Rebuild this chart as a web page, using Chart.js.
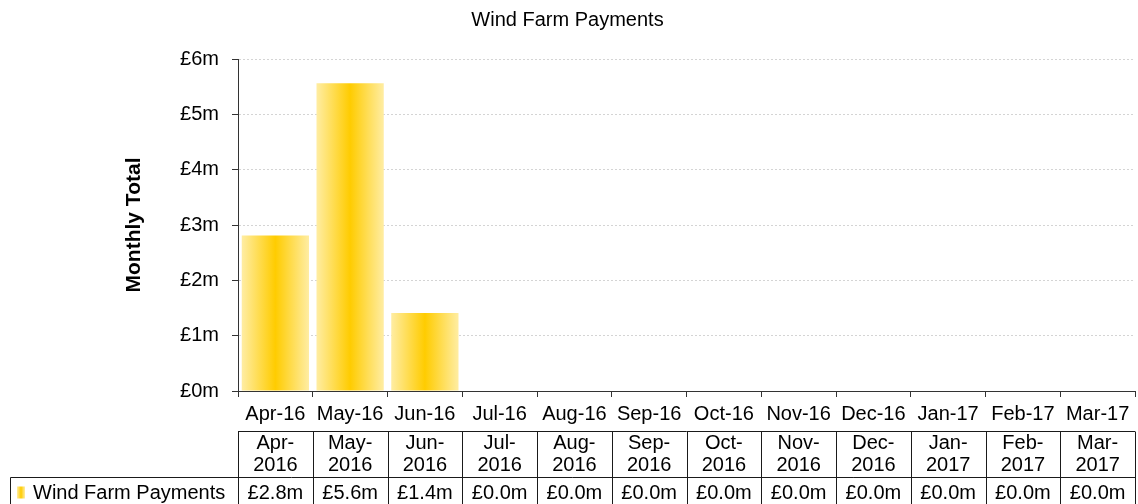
<!DOCTYPE html>
<html>
<head>
<meta charset="utf-8">
<script src="https://cdn.jsdelivr.net/npm/chart.js@4.4.1/dist/chart.umd.min.js"></script>
<style>
  html, body { margin: 0; padding: 0; background: #fff; }
  #wrap { position: relative; width: 1138px; height: 504px; }
</style>
</head>
<body>
<div id="wrap"><canvas id="c"></canvas></div>
<script>
// ---- data ----
const chartTitle = 'Wind Farm Payments';
const seriesName = 'Wind Farm Payments';
const yAxisTitle = 'Monthly Total';
const categories = ['Apr-16','May-16','Jun-16','Jul-16','Aug-16','Sep-16','Oct-16','Nov-16','Dec-16','Jan-17','Feb-17','Mar-17'];
const tableHeaders = ['Apr-2016','May-2016','Jun-2016','Jul-2016','Aug-2016','Sep-2016','Oct-2016','Nov-2016','Dec-2016','Jan-2017','Feb-2017','Mar-2017'];
const payments = [2.81, 5.56, 1.41, 0, 0, 0, 0, 0, 0, 0, 0, 0]; // £ millions
const yTicks = [0, 1, 2, 3, 4, 5, 6];

const FONT = "'Liberation Sans', Arial, sans-serif";
const BAR_PCT = 0.9;

function barGradient(ctx, x0, x1) {
  const g = ctx.createLinearGradient(x0, 0, x1, 0);
  g.addColorStop(0, '#FFEDA3');
  g.addColorStop(0.5, '#FFCC00');
  g.addColorStop(1, '#FFEDA3');
  return g;
}

const tablePlugin = {
  id: 'dataTable',
  afterDraw(chart) {
    const ctx = chart.ctx;
    const xs = chart.scales.x;
    const n = categories.length;
    const cw = (xs.right - xs.left) / n;
    const base = chart.chartArea.bottom;
    const top = Math.round(base + 40) + 0.5;
    const mid = Math.round(base + 86) + 0.5;
    const bottom = chart.height;
    const legendLeft = 10.5;
    ctx.save();
    ctx.strokeStyle = '#1a1a1a';
    ctx.lineWidth = 1;
    ctx.beginPath();
    ctx.moveTo(xs.left, top); ctx.lineTo(xs.right, top);
    ctx.moveTo(legendLeft, mid); ctx.lineTo(xs.right, mid);
    ctx.moveTo(legendLeft, mid); ctx.lineTo(legendLeft, bottom);
    for (let i = 0; i <= n; i++) {
      const x = Math.round(xs.left + i * cw) + 0.5;
      ctx.moveTo(x, top); ctx.lineTo(x, bottom);
    }
    ctx.stroke();

    ctx.fillStyle = '#000';
    ctx.font = '20px ' + FONT;
    ctx.textAlign = 'center';
    ctx.textBaseline = 'middle';
    for (let i = 0; i < n; i++) {
      const cx = xs.left + (i + 0.5) * cw;
      const h = tableHeaders[i];
      const k = h.indexOf('-') + 1;
      ctx.fillText(h.slice(0, k), cx, top + 12);
      ctx.fillText(h.slice(k), cx, top + 34);
      ctx.fillText('£' + payments[i].toFixed(1) + 'm', cx, mid + 16);
    }
    // legend key
    ctx.fillStyle = barGradient(ctx, 17, 25);
    ctx.fillRect(17, mid + 9, 8, 12);
    ctx.fillStyle = '#000';
    ctx.textAlign = 'left';
    ctx.fillText(seriesName, 33, mid + 16);
    ctx.restore();
  }
};

new Chart(document.getElementById('c'), {
  type: 'bar',
  data: {
    labels: categories,
    datasets: [{
      label: seriesName,
      data: payments,
      barPercentage: BAR_PCT,
      categoryPercentage: 1,
      borderWidth: 0,
      backgroundColor: (c) => {
        const chart = c.chart;
        const xs = chart.scales && chart.scales.x;
        if (!xs || c.dataIndex === undefined || !chart.chartArea) return '#FFCC00';
        const cx = xs.getPixelForValue(c.dataIndex);
        const w = (xs.right - xs.left) / categories.length * BAR_PCT;
        return barGradient(chart.ctx, cx - w / 2, cx + w / 2);
      }
    }]
  },
  options: {
    responsive: true,
    maintainAspectRatio: false,
    animation: false,
    events: [],
    layout: { padding: { left: 0, right: 3, top: 0, bottom: 0 } },
    plugins: {
      legend: { display: false },
      tooltip: { enabled: false },
      title: {
        display: true,
        text: chartTitle,
        color: '#000',
        font: { family: FONT, size: 20, weight: 'normal' },
        padding: { top: 8, bottom: 27 }
      }
    },
    scales: {
      x: {
        offset: true,
        grid: {
          offset: true,
          drawOnChartArea: false,
          drawTicks: true,
          tickLength: 6,
          tickColor: '#333'
        },
        border: { color: '#333', width: 1 },
        ticks: {
          color: '#000',
          font: { family: FONT, size: 20 },
          padding: 5,
          autoSkip: false,
          maxRotation: 0,
          minRotation: 0
        },
        afterFit: (s) => { s.height = 113; }
      },
      y: {
        min: 0,
        max: 6,
        afterBuildTicks: (s) => { s.ticks = yTicks.map(v => ({ value: v })); },
        grid: {
          color: '#D4D4D4',
          tickLength: 6,
          tickColor: '#333',
          tickBorderDash: []
        },
        border: { color: '#333', width: 1, dash: [2, 2] },
        ticks: {
          color: '#000',
          font: { family: FONT, size: 20 },
          padding: 13,
          callback: (v) => '£' + v + 'm'
        },
        title: {
          display: true,
          text: yAxisTitle,
          color: '#000',
          font: { family: FONT, size: 21, weight: 'bold' },
          padding: { top: 122, bottom: 0 }
        },
        afterFit: (s) => { s.width = 238; }
      }
    }
  },
  plugins: [tablePlugin]
});
</script>
</body>
</html>
